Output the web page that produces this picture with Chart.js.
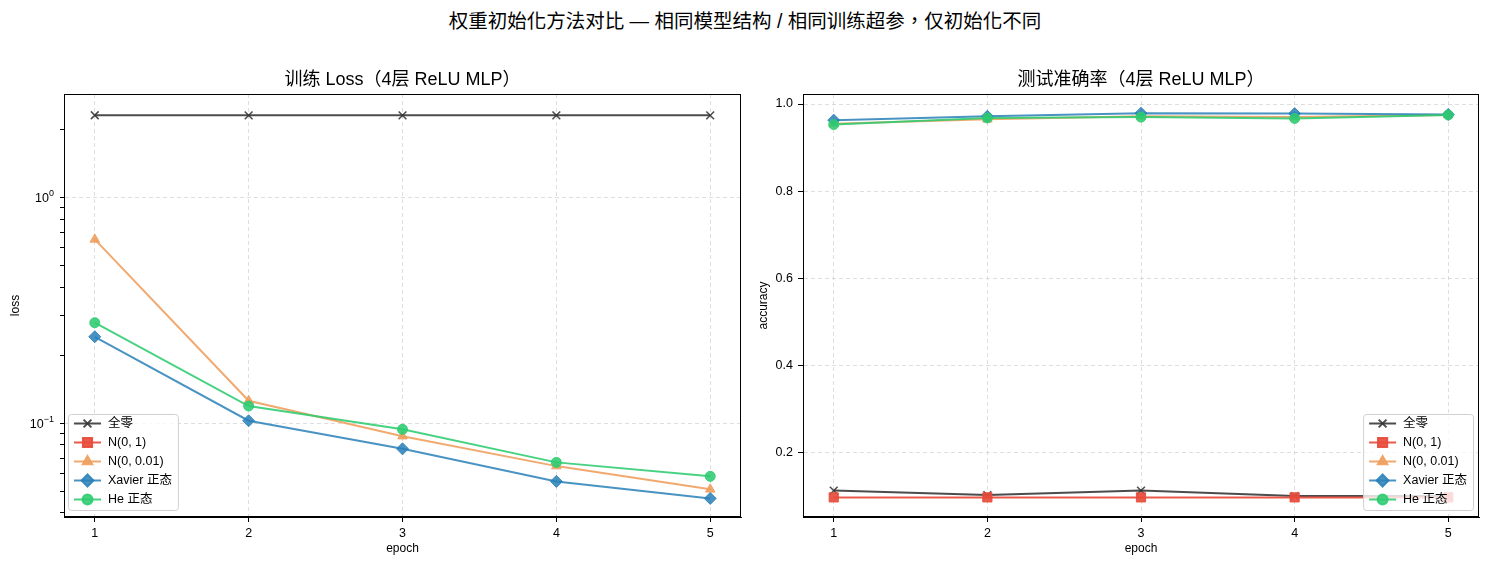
<!DOCTYPE html>
<html>
<head>
<meta charset="utf-8">
<script src="https://cdn.jsdelivr.net/npm/chart.js@4/dist/chart.umd.min.js"></script>
<style>
  html,body{margin:0;padding:0;background:#fff;}
  body{width:1490px;height:566px;position:relative;overflow:hidden;font-family:"Liberation Sans",Arial,"Noto Sans CJK TC",sans-serif;}
  #sup{position:absolute;left:0;top:5px;width:1490px;text-align:center;font-size:19.5px;color:#000;}
  .box{position:absolute;top:0;width:750px;height:566px;}
</style>
</head>
<body>
<div id="sup">权重初始化方法对比 — 相同模型结构 / 相同训练超参，仅初始化不同</div>
<div class="box" style="left:0"><canvas id="ch-loss"></canvas></div>
<div class="box" style="left:740px"><canvas id="ch-acc"></canvas></div>
<script>
// ── data ──────────────────────────────────────────────
const epochs=[1,2,3,4,5];
const labels=['全零','N(0, 1)','N(0, 0.01)','Xavier 正态','He 正态'];
// train loss (N(0,1) diverged -> NaN, nothing drawn)
const lossZero =[2.303,2.302,2.302,2.302,2.302];
const lossN1   =[null,null,null,null,null];
const lossN001 =[0.650,0.1255,0.0875,0.0645,0.0509];
const lossXav  =[0.241,0.1024,0.0769,0.0552,0.0464];
const lossHe   =[0.278,0.119,0.0938,0.0670,0.0581];
// test accuracy
const accZero =[0.1135,0.1032,0.1135,0.1010,0.1010];
const accN1   =[0.098,0.098,0.098,0.098,0.098];
const accN001 =[0.955,0.965,0.972,0.970,0.975];
const accXav  =[0.963,0.972,0.979,0.978,0.976];
const accHe   =[0.953,0.968,0.970,0.967,0.975];
// tick values
const lossTicks=[0.04,0.05,0.06,0.07,0.08,0.09,0.1,0.2,0.3,0.4,0.5,0.6,0.7,0.8,0.9,1,2];
const lossMajor={0.1:'−1',1:'0'};   // exponents of the labelled decades
const accTicks=[0.2,0.4,0.6,0.8,1.0];

const FONT='"Liberation Sans", Arial, "Noto Sans CJK SC", sans-serif';
const TFONT='"Liberation Sans", Arial, "Noto Sans CJK TC", sans-serif';
const S=[
  {color:'rgba(51,51,51,0.88)',   style:'crossRot',  r:5.5},
  {color:'rgba(231,76,60,0.92)',  style:'rect',      r:6.5},
  {color:'rgba(240,160,95,0.9)',  style:'triangle',  r:5.5},
  {color:'rgba(41,128,185,0.85)', style:'rectRot',   r:6},
  {color:'rgba(46,204,113,0.88)', style:'circle',    r:5},
];

const mkSets=(arrs)=>arrs.map((a,i)=>({
  label:labels[i],
  data:a.map((v,j)=>({x:epochs[j],y:v})),
  borderColor:S[i].color,backgroundColor:S[i].color,
  pointBackgroundColor:S[i].color,pointBorderColor:S[i].color,
  pointStyle:S[i].style,pointRadius:S[i].r,pointHoverRadius:S[i].r,
  pointBorderWidth:S[i].style==='crossRot'?1.5:1,
  borderWidth:2,tension:0,order:4-i,spanGaps:false
}));

// frame, subplot title, 10^n labels and legend inside the plot
const decor={
  id:'decor',
  afterDraw(chart,args,o){
    const {ctx,chartArea:a}=chart;
    ctx.save();
    ctx.strokeStyle='#000';ctx.lineWidth=1;
    ctx.strokeRect(a.left+0.5,a.top+0.5,a.right-a.left-1,a.bottom-a.top-1);

    ctx.fillStyle='#000';ctx.textAlign='center';ctx.textBaseline='middle';
    ctx.font='18px '+TFONT;
    ctx.fillText(o.title,(a.left+a.right)/2,80);

    if(o.logLabels){
      const sc=chart.scales.y;
      Object.keys(lossMajor).forEach(k=>{
        const y=sc.getPixelForValue(Number(k)), R=a.left-10;
        ctx.textAlign='left';ctx.textBaseline='middle';
        ctx.font='9px '+FONT; const we=ctx.measureText(lossMajor[k]).width;
        ctx.font='12.5px '+FONT; const wb=ctx.measureText('10').width;
        ctx.fillText('10',R-we-wb,y+1);
        ctx.font='9px '+FONT;
        ctx.fillText(lossMajor[k],R-we,y-4);
      });
    }

    ctx.font='12.5px '+FONT;
    const ds=chart.data.datasets;
    const rowH=19,padX=6,lineW=27,gap=7;
    const tw=Math.max(...ds.map(d=>ctx.measureText(d.label).width));
    const w=padX+lineW+gap+tw+padX, h=ds.length*rowH+1;
    const x0=o.side==='left'?a.left+4:a.right-6-w;
    const y0=a.bottom-7-h;
    ctx.fillStyle='rgba(255,255,255,0.8)';ctx.strokeStyle='#d0d0d0';
    ctx.beginPath();ctx.roundRect(x0+0.5,y0+0.5,w,h,3);ctx.fill();ctx.stroke();
    ds.forEach((d,i)=>{
      const cy=y0+9.5+i*rowH, lx=x0+padX;
      ctx.strokeStyle=d.borderColor;ctx.lineWidth=2;
      ctx.beginPath();ctx.moveTo(lx,cy);ctx.lineTo(lx+lineW,cy);ctx.stroke();
      ctx.fillStyle=d.pointBackgroundColor;ctx.strokeStyle=d.pointBorderColor;
      Chart.helpers.drawPoint(ctx,{pointStyle:d.pointStyle,radius:d.pointRadius,borderWidth:d.pointBorderWidth},lx+lineW/2,cy);
      ctx.fillStyle='#000';ctx.textBaseline='middle';ctx.textAlign='left';
      ctx.fillText(d.label,lx+lineW+gap,cy+0.5);
    });
    ctx.restore();
  }
};

const xScale=()=>({
  type:'linear',min:0.8,max:5.2,
  afterBuildTicks:s=>{s.ticks=epochs.map(v=>({value:v}));},
  afterFit:s=>{s.height=49;},
  ticks:{color:'#000',font:{size:12.5,family:FONT},padding:4,callback:v=>String(v)},
  grid:{color:'rgba(200,200,200,0.6)',tickColor:'#000',tickLength:5,tickBorderDash:[]},
  border:{color:'#000',width:1,dash:[4,3]},
  title:{display:true,text:'epoch',color:'#000',font:{size:12,family:FONT},padding:{top:10,bottom:10}}
});

const base=(title,sets,yScale,side,padRight,logLabels)=>({
  type:'line',
  data:{datasets:sets},
  options:{
    responsive:true,maintainAspectRatio:false,animation:false,
    layout:{padding:{left:0,right:padRight,top:94,bottom:0}},
    plugins:{
      legend:{display:false},tooltip:{enabled:false},title:{display:false},
      decor:{side,title,logLabels}
    },
    scales:{x:xScale(),y:yScale}
  },
  plugins:[decor]
});

new Chart(document.getElementById('ch-loss'),base('训练 Loss（4层 ReLU MLP）',
  mkSets([lossZero,lossN1,lossN001,lossXav,lossHe]),
  {
    type:'logarithmic',min:0.0384,max:2.86,
    afterBuildTicks:s=>{s.ticks=lossTicks.map(v=>({value:v,major:v in lossMajor}));},
    afterFit:s=>{s.width=64;},
    ticks:{color:'#000',font:{size:12.5,family:FONT},padding:5,autoSkip:false,callback:()=>''},
    grid:{color:c=>(c.tick&&c.tick.value in lossMajor)?'rgba(200,200,200,0.6)':'rgba(0,0,0,0)',tickColor:'#000',tickLength:4,tickBorderDash:[]},
    border:{color:'#000',width:1,dash:[4,3]},
    title:{display:true,text:'loss',color:'#000',font:{size:12,family:FONT},padding:{top:8,bottom:8}}
  },'left',9,true));

new Chart(document.getElementById('ch-acc'),base('测试准确率（4层 ReLU MLP）',
  mkSets([accZero,accN1,accN001,accXav,accHe]),
  {
    type:'linear',min:0.053,max:1.023,
    afterBuildTicks:s=>{s.ticks=accTicks.map(v=>({value:v}));},
    afterFit:s=>{s.width=63;},
    ticks:{color:'#000',font:{size:12.5,family:FONT},padding:5,callback:v=>v.toFixed(1)},
    grid:{color:'rgba(200,200,200,0.6)',tickColor:'#000',tickLength:5,tickBorderDash:[]},
    border:{color:'#000',width:1,dash:[4,3]},
    title:{display:true,text:'accuracy',color:'#000',font:{size:12,family:FONT},padding:{top:16,bottom:16}}
  },'right',11,false));
</script>
</body>
</html>
